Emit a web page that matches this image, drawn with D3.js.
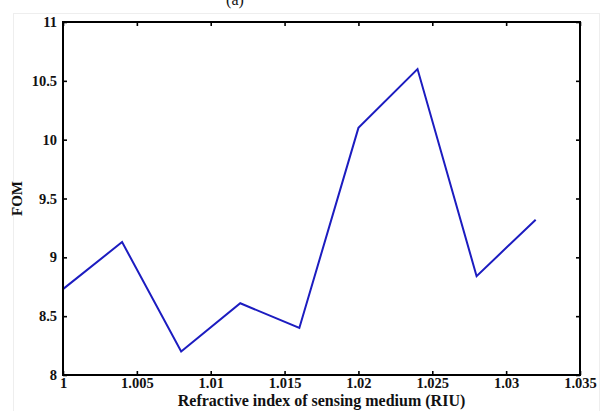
<!DOCTYPE html>
<html>
<head>
<meta charset="utf-8">
<script src="https://cdn.jsdelivr.net/npm/d3@7"></script>
<style>
  html, body { margin: 0; padding: 0; background: #ffffff; }
  svg { display: block; }
  text { font-family: "Liberation Serif", "Times New Roman", serif; font-weight: bold; fill: #111; }
</style>
</head>
<body>
<script>
// Refractive index of the sensing medium (RIU)
const refractiveIndex = [1.000, 1.004, 1.008, 1.012, 1.016, 1.020, 1.024, 1.028, 1.032];
// Figure of merit at each index
const fom = [8.73, 9.13, 8.20, 8.61, 8.40, 10.10, 10.60, 8.84, 9.32];

const xTicks = [1, 1.005, 1.01, 1.015, 1.02, 1.025, 1.03, 1.035];
const xTickLabels = ["1", "1.005", "1.01", "1.015", "1.02", "1.025", "1.03", "1.035"];
const yTicks = [8, 8.5, 9, 9.5, 10, 10.5, 11];
const yTickLabels = ["8", "8.5", "9", "9.5", "10", "10.5", "11"];

const W = 615, H = 411;
const plot = { left: 63, right: 580, top: 22, bottom: 375 };

const svg = d3.select("body").append("svg").attr("width", W).attr("height", H);

// faint frame of the figure canvas
svg.append("rect")
  .attr("x", 13.5).attr("y", 13.5).attr("width", 586).attr("height", 420)
  .attr("fill", "none").attr("stroke", "#eeeeee").attr("stroke-width", 1);

// panel tag, mostly above the canvas
svg.append("text")
  .attr("x", 235).attr("y", 5)
  .attr("text-anchor", "middle")
  .style("font-size", "16px").style("font-weight", "normal")
  .text("(a)");

const x = d3.scaleLinear().domain([1, 1.035]).range([plot.left, plot.right]);
const y = d3.scaleLinear().domain([8, 11]).range([plot.bottom, plot.top]);

const tickLen = 4;
const tickFont = "14.5px";

// bottom axis (ticks pointing inward)
const xAxis = d3.axisBottom(x).tickValues(xTicks)
  .tickFormat((d, i) => xTickLabels[i]).tickSizeInner(-tickLen).tickSizeOuter(0).tickPadding(4);
const gx = svg.append("g").attr("transform", `translate(0,${plot.bottom})`).call(xAxis);
gx.select(".domain").remove();
gx.selectAll("line").attr("stroke", "#000").attr("stroke-width", 1.6);
gx.selectAll("text").style("font-size", tickFont).attr("fill", "#111").attr("dy", "0.62em");

// top axis: ticks only
const gxTop = svg.append("g").attr("transform", `translate(0,${plot.top})`)
  .call(d3.axisTop(x).tickValues(xTicks).tickSizeInner(-tickLen).tickSizeOuter(0).tickFormat(""));
gxTop.select(".domain").remove();
gxTop.selectAll("line").attr("stroke", "#000").attr("stroke-width", 1.6);

// left axis
const yAxis = d3.axisLeft(y).tickValues(yTicks)
  .tickFormat((d, i) => yTickLabels[i]).tickSizeInner(-tickLen).tickSizeOuter(0).tickPadding(6);
const gy = svg.append("g").attr("transform", `translate(${plot.left},0)`).call(yAxis);
gy.select(".domain").remove();
gy.selectAll("line").attr("stroke", "#000").attr("stroke-width", 1.6);
gy.selectAll("text").style("font-size", tickFont).attr("fill", "#111");

// right axis: ticks only
const gyR = svg.append("g").attr("transform", `translate(${plot.right},0)`)
  .call(d3.axisRight(y).tickValues(yTicks).tickSizeInner(-tickLen).tickSizeOuter(0).tickFormat(""));
gyR.select(".domain").remove();
gyR.selectAll("line").attr("stroke", "#000").attr("stroke-width", 1.6);

// data line
const line = d3.line().x((d, i) => x(refractiveIndex[i])).y(d => y(d));
svg.append("path")
  .datum(fom)
  .attr("d", line)
  .attr("fill", "none")
  .attr("stroke", "#1c1cc0")
  .attr("stroke-width", 2)
  .attr("stroke-linejoin", "miter");

// plot box
svg.append("rect")
  .attr("x", plot.left).attr("y", plot.top)
  .attr("width", plot.right - plot.left).attr("height", plot.bottom - plot.top)
  .attr("fill", "none").attr("stroke", "#000").attr("stroke-width", 2);

// axis titles
svg.append("text")
  .attr("x", (plot.left + plot.right) / 2).attr("y", 406)
  .attr("text-anchor", "middle")
  .style("font-size", "16px")
  .text("Refractive index of sensing medium (RIU)");

svg.append("text")
  .attr("transform", `translate(22,${(plot.top + plot.bottom) / 2}) rotate(-90)`)
  .attr("text-anchor", "middle")
  .style("font-size", "15px")
  .text("FOM");
</script>
</body>
</html>
